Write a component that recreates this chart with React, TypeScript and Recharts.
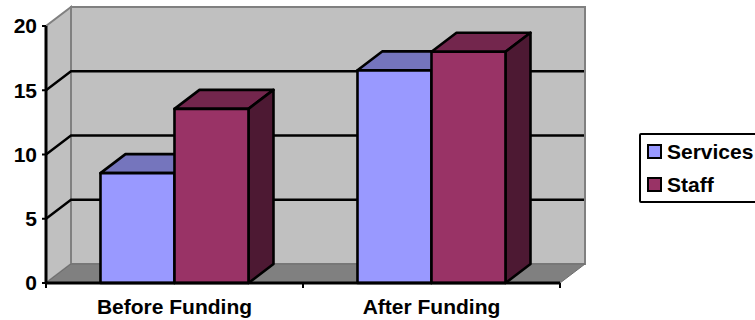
import { BarChart, Bar, XAxis, YAxis, CartesianGrid, Legend, usePlotArea } from "recharts";

const categories = ["Before Funding", "After Funding"];
const services = [8.55, 16.55];
const staff = [13.55, 18];
const yTicks = [0, 5, 10, 15, 20];

const data = categories.map((name, i) => ({ name, services: services[i], staff: staff[i] }));

// oblique offset of the back wall, used by the walls, the grid and the bars
const DX = 25;
const DY = 19;
const FONT = '"Liberation Sans", Arial, sans-serif';
const WALL = "#c0c0c0";
const EDGE = "#808080";
const X_TICK_GAP = 16;

function Walls() {
  const plot = usePlotArea();
  if (!plot) return null;
  const left = plot.x;
  const right = plot.x + plot.width;
  const top = plot.y;
  const bottom = plot.y + plot.height;
  const poly = (pts: number[][]) => pts.map((p) => p.join(",")).join(" ");
  return (
    <g>
      <polygon
        points={poly([[left + DX, top - DY], [right + DX, top - DY], [right + DX, bottom - DY], [left + DX, bottom - DY]])}
        fill={WALL}
        stroke={EDGE}
        strokeWidth={2}
      />
      <polygon
        points={poly([[left, bottom], [left, top], [left + DX, top - DY], [left + DX, bottom - DY]])}
        fill={WALL}
        stroke={EDGE}
        strokeWidth={2}
      />
      <polygon
        points={poly([[left, bottom], [left + DX, bottom - DY], [right + DX, bottom - DY], [right, bottom]])}
        fill={EDGE}
        stroke="#6e6e6e"
        strokeWidth={1}
      />
    </g>
  );
}

// grid line running up the side wall and across the back wall
function GridLine(props: any) {
  const { x1, x2, y1, index } = props;
  if (index === 0 || index === yTicks.length - 1) return <g key={props.key} />;
  return (
    <path
      key={props.key}
      d={`M${x1},${y1} L${x1 + DX},${y1 - DY} L${x2 + DX - 1},${y1 - DY}`}
      fill="none"
      stroke="#000"
      strokeWidth={2.4}
    />
  );
}

function Box(props: any) {
  const { x, y, width, height, fill, topFill, sideFill } = props;
  const line = { stroke: "#000", strokeWidth: 2.6, strokeLinejoin: "round" as const };
  return (
    <g>
      <polygon
        points={`${x},${y} ${x + DX},${y - DY} ${x + width + DX},${y - DY} ${x + width},${y}`}
        fill={topFill}
        {...line}
      />
      <polygon
        points={`${x + width},${y} ${x + width + DX},${y - DY} ${x + width + DX},${y + height - DY} ${x + width},${y + height}`}
        fill={sideFill}
        {...line}
      />
      <rect x={x} y={y} width={width} height={height} fill={fill} {...line} />
    </g>
  );
}

// category label, with the separator marks that sit between the groups
function CategoryTick({ x, y, width, payload, index, visibleTicksCount }: any) {
  const step = width / visibleTicksCount;
  const axisY = y - X_TICK_GAP;
  const marks = index === visibleTicksCount - 1 ? [x - step / 2, x + step / 2] : [x - step / 2];
  return (
    <g>
      {marks.map((mx) => (
        <line key={mx} x1={mx} x2={mx} y1={axisY} y2={axisY + 5} stroke="#000" strokeWidth={2} />
      ))}
      <text x={x} y={y} dy={15} textAnchor="middle" fontFamily={FONT} fontWeight={700} fontSize={21} fill="#000">
        {payload.value}
      </text>
    </g>
  );
}

function LegendBox({ payload }: any) {
  return (
    <div
      style={{
        boxSizing: "border-box",
        width: 140,
        height: 70,
        border: "2.5px solid #000",
        borderRadius: 2,
        background: "#fff",
        paddingLeft: 6,
        fontFamily: FONT,
        fontWeight: 700,
        fontSize: 21,
        color: "#000",
      }}
    >
      {(payload || []).map((item: any) => (
        <div key={item.value} style={{ display: "flex", alignItems: "center", height: 33 }}>
          <span
            style={{
              boxSizing: "border-box",
              width: 15,
              height: 15,
              marginRight: 5,
              border: "2.5px solid #000",
              background: item.color,
            }}
          />
          {item.value}
        </div>
      ))}
    </div>
  );
}

export default function App() {
  const tickStyle = { fontFamily: FONT, fontWeight: 700, fontSize: 21, fill: "#000" };
  return (
    <div style={{ position: "fixed", left: 0, top: 0, width: 755, height: 320, overflow: "hidden", background: "#fff" }}>
      <BarChart
        width={755}
        height={320}
        data={data}
        margin={{ top: 26, right: 195, bottom: 0, left: 6 }}
        barCategoryGap="21.2%"
        barGap={0}
      >
        <Walls />
        <CartesianGrid vertical={false} horizontal={GridLine} zIndex={1} />
        <XAxis
          dataKey="name"
          tickLine={false}
          axisLine={{ stroke: "#000", strokeWidth: 3 }}
          tick={<CategoryTick />}
          tickSize={6}
          tickMargin={X_TICK_GAP - 6}
          height={37}
          interval={0}
        />
        <YAxis
          domain={[0, 20]}
          ticks={yTicks}
          width={40}
          tick={tickStyle}
          tickSize={4}
          tickMargin={5}
          tickLine={{ stroke: "#000", strokeWidth: 2 }}
          axisLine={{ stroke: "#000", strokeWidth: 3 }}
        />
        <Bar
          dataKey="services"
          name="Services"
          fill="#9999ff"
          isAnimationActive={false}
          shape={(p: any) => <Box {...p} topFill="#7575bd" sideFill="#4d4d80" />}
        />
        <Bar
          dataKey="staff"
          name="Staff"
          fill="#993366"
          isAnimationActive={false}
          shape={(p: any) => <Box {...p} topFill="#73264d" sideFill="#4d1933" />}
        />
        <Legend
          layout="vertical"
          align="center"
          verticalAlign="middle"
          content={<LegendBox />}
          wrapperStyle={{ left: 639, top: 133, width: 140, height: 70 }}
        />
      </BarChart>
    </div>
  );
}
